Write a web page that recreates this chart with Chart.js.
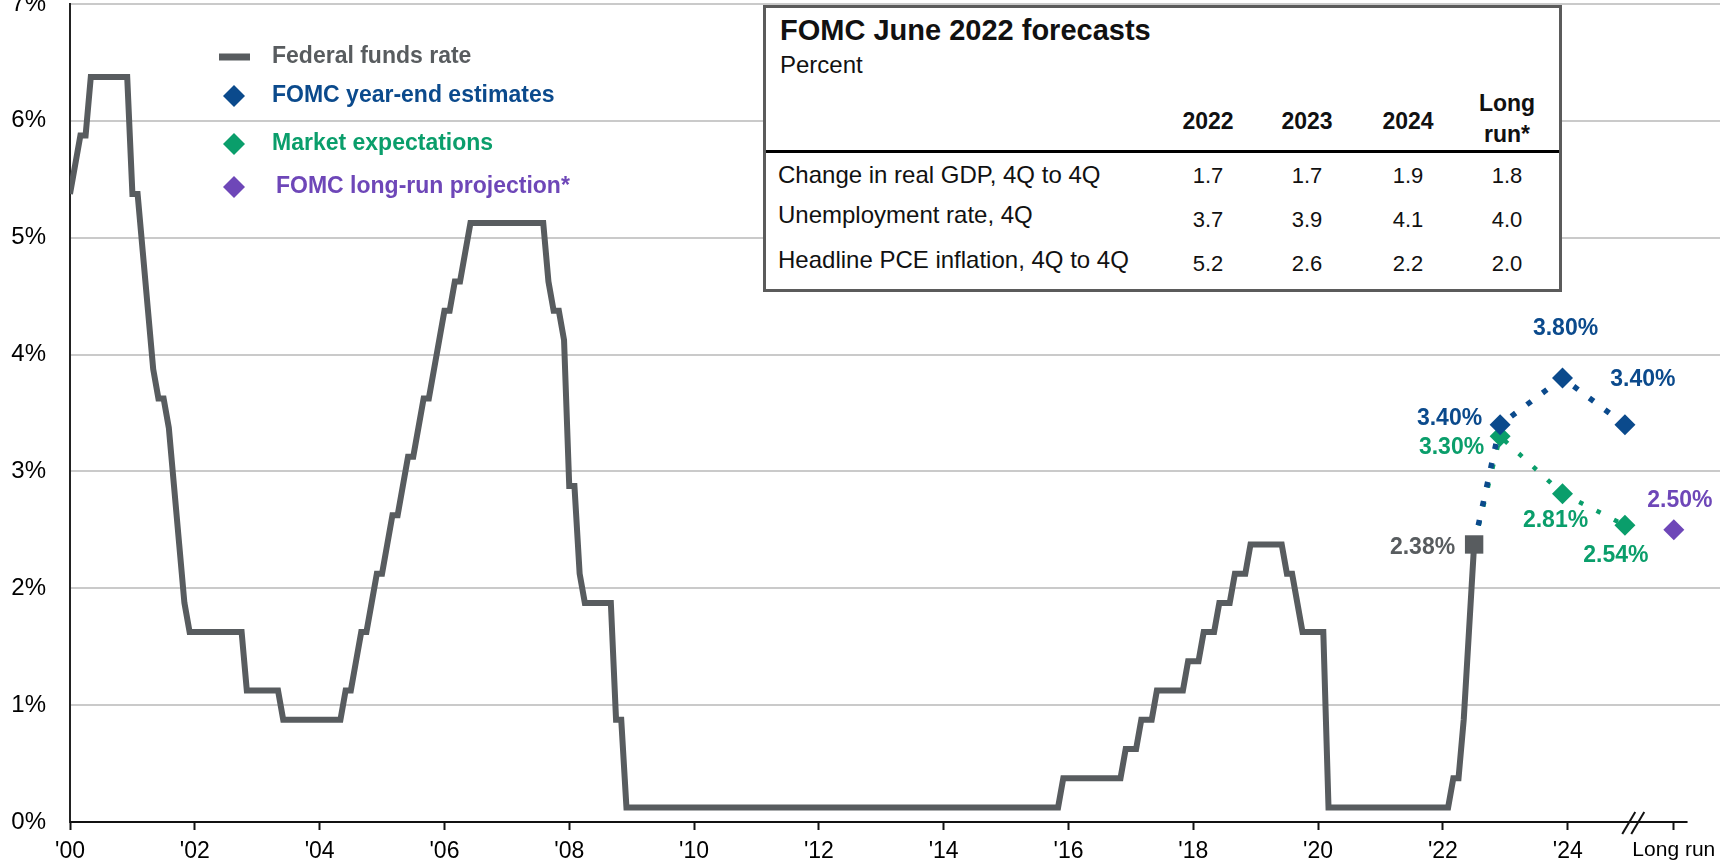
<!DOCTYPE html>
<html>
<head>
<meta charset="utf-8">
<title>Federal funds rate and FOMC June 2022 forecasts</title>
<script src="https://cdn.jsdelivr.net/npm/chart.js@4.4.1/dist/chart.umd.min.js"></script>
<style>
  html, body { margin: 0; padding: 0; background: #fff; overflow: hidden; }
  #wrap { position: relative; width: 1722px; height: 867px; }
  #fcst-box { position: absolute; left: 763px; top: 5px; width: 799px; height: 287px;
              box-sizing: border-box; border: 3px solid #5b5b5b; background: #fff; }
  #fcst-rule { position: absolute; left: 766px; top: 150px; width: 793px; height: 3px; background: #000; }
  .t { position: absolute; white-space: nowrap; line-height: 1; color: #111;
       font-family: "Liberation Sans", Arial, sans-serif; }
  .mid { transform: translate(-50%, -50%); }
  .lft { transform: translate(0, -50%); }
  .b { font-weight: bold; }
</style>
</head>
<body>
<div id="wrap">
  <canvas id="chart" width="1722" height="867"></canvas>
  <div id="fcst-box"></div>
  <div id="fcst-rule"></div>
  <div id="fcst-text"></div>
</div>
<script>
//Data: federal funds rate (month, %), only the months where the line bends
var ffMonths = [
  '2000-01','2000-03','2000-04','2000-05','2000-12',
  '2001-01','2001-02','2001-03','2001-04','2001-05','2001-06','2001-07','2001-08','2001-09','2001-10','2001-11','2001-12',
  '2002-10','2002-11','2003-05','2003-06','2004-05','2004-06','2004-07','2004-08','2004-09','2004-10','2004-11','2004-12',
  '2005-01','2005-02','2005-03','2005-04','2005-05','2005-06','2005-07','2005-08','2005-09','2005-10','2005-11','2005-12',
  '2006-01','2006-02','2006-03','2006-04','2006-05','2006-06',
  '2007-08','2007-09','2007-10','2007-11','2007-12',
  '2008-01','2008-02','2008-03','2008-04','2008-09','2008-10','2008-11','2008-12',
  '2015-11','2015-12','2016-11','2016-12','2017-02','2017-03','2017-05','2017-06','2017-11','2017-12',
  '2018-02','2018-03','2018-05','2018-06','2018-08','2018-09','2018-11','2018-12',
  '2019-06','2019-07','2019-08','2019-09','2019-10','2020-02','2020-03',
  '2022-02','2022-03','2022-04','2022-05','2022-06','2022-07'
];
var ffRates = [
  5.375, 5.875, 5.875, 6.375, 6.375,
  5.375, 5.375, 4.875, 4.375, 3.875, 3.625, 3.625, 3.375, 2.875, 2.375, 1.875, 1.625,
  1.625, 1.125, 1.125, 0.875, 0.875, 1.125, 1.125, 1.375, 1.625, 1.625, 1.875, 2.125,
  2.125, 2.375, 2.625, 2.625, 2.875, 3.125, 3.125, 3.375, 3.625, 3.625, 3.875, 4.125,
  4.375, 4.375, 4.625, 4.625, 4.875, 5.125,
  5.125, 4.625, 4.375, 4.375, 4.125,
  2.875, 2.875, 2.125, 1.875, 1.875, 0.875, 0.875, 0.125,
  0.125, 0.375, 0.375, 0.625, 0.625, 0.875, 0.875, 1.125, 1.125, 1.375,
  1.375, 1.625, 1.625, 1.875, 1.875, 2.125, 2.125, 2.375,
  2.375, 2.125, 2.125, 1.875, 1.625, 1.625, 0.125,
  0.125, 0.375, 0.375, 0.875, 1.625, 2.375
];

//Forecasts (year-end)
var forecastMonths = ['2022-12', '2023-12', '2024-12'];
var fomcRates = [3.40, 3.80, 3.40];
var marketRates = [3.30, 2.81, 2.54];
var longRunRate = 2.50;
var longRunX = 2025.7;

//Axis ticks
var yearTicks = [2000, 2002, 2004, 2006, 2008, 2010, 2012, 2014, 2016, 2018, 2020, 2022, 2024];
var yMax = 7;

//Forecast table
var tableTitle = 'FOMC June 2022 forecasts';
var tableUnit = 'Percent';
var tableCols = ['2022', '2023', '2024', 'Long run*'];
var tableRowLabels = ['Change in real GDP, 4Q to 4Q', 'Unemployment rate, 4Q', 'Headline PCE inflation, 4Q to 4Q'];
var gdpGrowth = [1.7, 1.7, 1.9, 1.8];
var unemployment = [3.7, 3.9, 4.1, 4.0];
var pceInflation = [5.2, 2.6, 2.2, 2.0];

var GRAY = '#585c5f';
var BLUE = '#0b4a8c';
var GREEN = '#0a9e6b';
var PURPLE = '#6e47b8';
var FONT = '"Liberation Sans", Arial, sans-serif';

function toYear(m) {
  var p = m.split('-');
  return Number(p[0]) + (Number(p[1]) - 1) / 12;
}

var ffPoints = ffMonths.map(function (m, i) { return {x: toYear(m), y: ffRates[i]}; });
var lastFF = ffPoints[ffPoints.length - 1];
var fomcPoints = [lastFF].concat(forecastMonths.map(function (m, i) { return {x: toYear(m), y: fomcRates[i]}; }));
var marketPoints = [lastFF].concat(forecastMonths.map(function (m, i) { return {x: toYear(m), y: marketRates[i]}; }));

//Label placement next to the markers (pixels)
var labelSpots = [
  {ds: 0, i: ffPoints.length - 1, dx: -19, dy: 3, align: 'right', color: GRAY},
  {ds: 1, i: 1, dx: -18, dy: -6, align: 'right', color: BLUE},
  {ds: 1, i: 2, dx: 3, dy: -49, align: 'center', color: BLUE},
  {ds: 1, i: 3, dx: 18, dy: -45, align: 'center', color: BLUE},
  {ds: 2, i: 1, dx: -16, dy: 11, align: 'right', color: GREEN},
  {ds: 2, i: 2, dx: -7, dy: 27, align: 'center', color: GREEN},
  {ds: 2, i: 3, dx: -9, dy: 30, align: 'center', color: GREEN},
  {ds: 3, i: 0, dx: 6, dy: -29, align: 'center', color: PURPLE}
];

function diamond(ctx, x, y, r) {
  ctx.beginPath();
  ctx.moveTo(x - r, y);
  ctx.lineTo(x, y - r);
  ctx.lineTo(x + r, y);
  ctx.lineTo(x, y + r);
  ctx.closePath();
  ctx.fill();
}

var extras = {
  id: 'extras',
  afterDatasetsDraw: function (chart) {
    var ctx = chart.ctx, x = chart.scales.x, y = chart.scales.y;
    ctx.save();

    //x axis line, stops after the long-run tick
    var y0 = y.getPixelForValue(0);
    ctx.strokeStyle = '#111';
    ctx.lineWidth = 2;
    ctx.beginPath();
    ctx.moveTo(chart.chartArea.left, y0);
    ctx.lineTo(x.getPixelForValue(2025.92), y0);
    ctx.stroke();

    //axis break //
    var bx = x.getPixelForValue(2025.05);
    [-4, 5].forEach(function (o) {
      ctx.beginPath();
      ctx.moveTo(bx + o - 7, y0 + 12);
      ctx.lineTo(bx + o + 6, y0 - 10);
      ctx.stroke();
    });

    //value labels
    ctx.font = 'bold 23px ' + FONT;
    ctx.textBaseline = 'middle';
    labelSpots.forEach(function (s) {
      var el = chart.getDatasetMeta(s.ds).data[s.i];
      var v = chart.data.datasets[s.ds].data[s.i].y;
      ctx.fillStyle = s.color;
      ctx.textAlign = s.align;
      ctx.fillText(v.toFixed(2) + '%', el.x + s.dx, el.y + s.dy);
    });

    //legend
    var ds = chart.data.datasets;
    var rows = [57, 96, 144, 187];
    ctx.textAlign = 'left';
    ctx.font = 'bold 23px ' + FONT;
    ds.forEach(function (d, k) {
      ctx.fillStyle = d.legendColor;
      if (k === 0) {
        ctx.fillRect(219, rows[k] - 3.5, 31, 7);
      } else {
        diamond(ctx, 234, rows[k], 11);
      }
      ctx.fillText(d.label, k === 3 ? 276 : 272, rows[k]);
    });
    ctx.restore();
  }
};

var lastIdx = ffPoints.length - 1;

var rateChart = new Chart(document.getElementById('chart'), {
  type: 'line',
  data: {
    datasets: [
      {
        label: 'Federal funds rate',
        legendColor: GRAY,
        data: ffPoints,
        borderColor: GRAY,
        borderWidth: 6,
        borderJoinStyle: 'miter',
        tension: 0,
        pointStyle: 'rect',
        pointRadius: ffPoints.map(function (p, i) { return i === lastIdx ? 13 : 0; }),
        pointBackgroundColor: GRAY,
        pointBorderWidth: 0
      },
      {
        label: 'FOMC year-end estimates',
        legendColor: BLUE,
        data: fomcPoints,
        borderColor: BLUE,
        borderWidth: 5.5,
        borderDash: [5.5, 14],
        tension: 0,
        pointStyle: 'rectRot',
        pointRadius: [0, 10.5, 10.5, 10.5],
        pointBackgroundColor: BLUE,
        pointBorderWidth: 0
      },
      {
        label: 'Market expectations',
        legendColor: GREEN,
        data: marketPoints,
        borderColor: GREEN,
        borderWidth: 4.5,
        borderDash: [4.5, 15],
        tension: 0,
        pointStyle: 'rectRot',
        pointRadius: [0, 10.5, 10.5, 10.5],
        pointBackgroundColor: GREEN,
        pointBorderWidth: 0
      },
      {
        label: 'FOMC long-run projection*',
        legendColor: PURPLE,
        data: [{x: longRunX, y: longRunRate}],
        showLine: false,
        pointStyle: 'rectRot',
        pointRadius: 10.5,
        pointBackgroundColor: PURPLE,
        pointBorderWidth: 0
      }
    ]
  },
  options: {
    responsive: false,
    animation: false,
    events: [],
    layout: { autoPadding: false, padding: { top: 4, right: 2, left: 0, bottom: 0 } },
    plugins: { legend: { display: false }, tooltip: { enabled: false } },
    scales: {
      x: {
        type: 'linear',
        min: 2000,
        max: 2026.44,
        afterBuildTicks: function (axis) {
          axis.ticks = yearTicks.concat([longRunX]).map(function (v) { return {value: v}; });
        },
        afterFit: function (axis) { axis.height = 45; axis.paddingLeft = 0; axis.paddingRight = 0; },
        ticks: {
          autoSkip: false,
          maxRotation: 0,
          padding: 8,
          color: '#000',
          font: function (c) {
            return {family: FONT, size: c.tick && c.tick.value === longRunX ? 21 : 23};
          },
          callback: function (v) {
            return v === longRunX ? 'Long run' : "'" + String(v).slice(2);
          }
        },
        grid: { display: true, drawOnChartArea: false, drawTicks: true, tickLength: 8, tickWidth: 2, tickColor: '#111' },
        border: { display: false }
      },
      y: {
        min: 0,
        max: yMax,
        afterFit: function (axis) { axis.width = 70; axis.paddingTop = 0; axis.paddingBottom = 0; },
        ticks: {
          stepSize: 1,
          padding: 24,
          color: '#000',
          font: { family: FONT, size: 24 },
          callback: function (v) { return v + '%'; }
        },
        grid: {
          drawTicks: false,
          lineWidth: 2,
          color: function (c) { return c.tick && c.tick.value === 0 ? 'rgba(0,0,0,0)' : '#cacaca'; }
        },
        border: { display: true, color: '#222', width: 2 }
      }
    }
  },
  plugins: [extras]
});

//Forecast table as text over the chart
function addText(txt, cls, left, top, size) {
  var d = document.createElement('div');
  d.className = 't ' + cls;
  d.style.left = left + 'px';
  d.style.top = top + 'px';
  d.style.fontSize = size + 'px';
  d.textContent = txt;
  document.getElementById('fcst-text').appendChild(d);
}

function buildTable() {
  var colX = [1208, 1307, 1408, 1507];
  var labelY = [175, 215, 259.5];
  var valueY = [176, 220, 264];
  var rows = [gdpGrowth, unemployment, pceInflation];

  addText(tableTitle, 'lft b', 780, 29.5, 29);
  addText(tableUnit, 'lft', 780, 65, 24);
  tableCols.forEach(function (c, i) {
    if (c.indexOf(' ') > 0) {
      var parts = c.split(' ');
      addText(parts[0], 'mid b', colX[i], 103, 23);
      addText(parts[1], 'mid b', colX[i], 134, 23);
    } else {
      addText(c, 'mid b', colX[i], 121, 23);
    }
  });
  tableRowLabels.forEach(function (lbl, r) {
    addText(lbl, 'lft', 778, labelY[r], 24);
    rows[r].forEach(function (v, i) {
      addText(v.toFixed(1), 'mid', colX[i], valueY[r], 22);
    });
  });
}
buildTable();
</script>
</body>
</html>
